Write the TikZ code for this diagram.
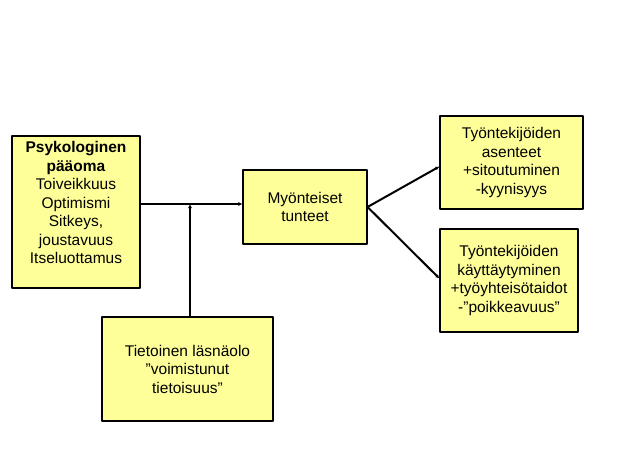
\documentclass[tikz,border=0pt]{standalone}
\usepackage{fontspec}
\setmainfont{Liberation Sans}
\usetikzlibrary{arrows.meta,positioning,calc}
\definecolor{boxyellow}{HTML}{FFFF99}
\tikzset{
  bx/.style={rectangle,draw,line width=1.1pt,fill=boxyellow,align=center,
             inner sep=2pt,font=\fontsize{15.5}{18.5}\selectfont},
  arr/.style={line width=2pt,-{Latex[length=4pt,width=4pt]}},
  every picture/.style={line cap=round,line join=round}}

\begin{document}
\begin{tikzpicture}[x=1pt,y=-1pt]
  \useasboundingbox (0,0) rectangle (624,468);
  \node[bx,minimum width=128pt,minimum height=152pt] (psy) at (76,212)
    {\textbf{Psykologinen}\\\textbf{pääoma}\\Toiveikkuus\\Optimismi\\Sitkeys,\\joustavuus\\Itseluottamus\\\mbox{}};
  \node[bx,minimum width=124pt,minimum height=74pt] (myo) at (305,207)
    {Myönteiset\\tunteet};
  \node[bx,minimum width=143pt,minimum height=93pt] (asen) at (511.5,162.5)
    {Työntekijöiden\\asenteet\\+sitoutuminen\\-kyynisyys};
  \node[bx,minimum width=138pt,minimum height=103pt] (kayt) at (509,280.5)
    {Työntekijöiden\\käyttäytyminen\\+työyhteisötaidot\\-”poikkeavuus”};
  \node[bx,minimum width=171pt,minimum height=104pt] (tiet) at (187.5,369)
    {Tietoinen läsnäolo\\”voimistunut\\tietoisuus”};
  \coordinate (j) at (190,204);
  \draw[arr] (psy.east |- j) -- (myo.west |- j);
  \draw[arr] (tiet.north -| j) -- (j);
  \draw[arr] (myo.east) -- ([yshift=-4pt]asen.west);
  \draw[arr] (myo.east) -- ([yshift=2pt]kayt.west);
\end{tikzpicture}
\end{document}
